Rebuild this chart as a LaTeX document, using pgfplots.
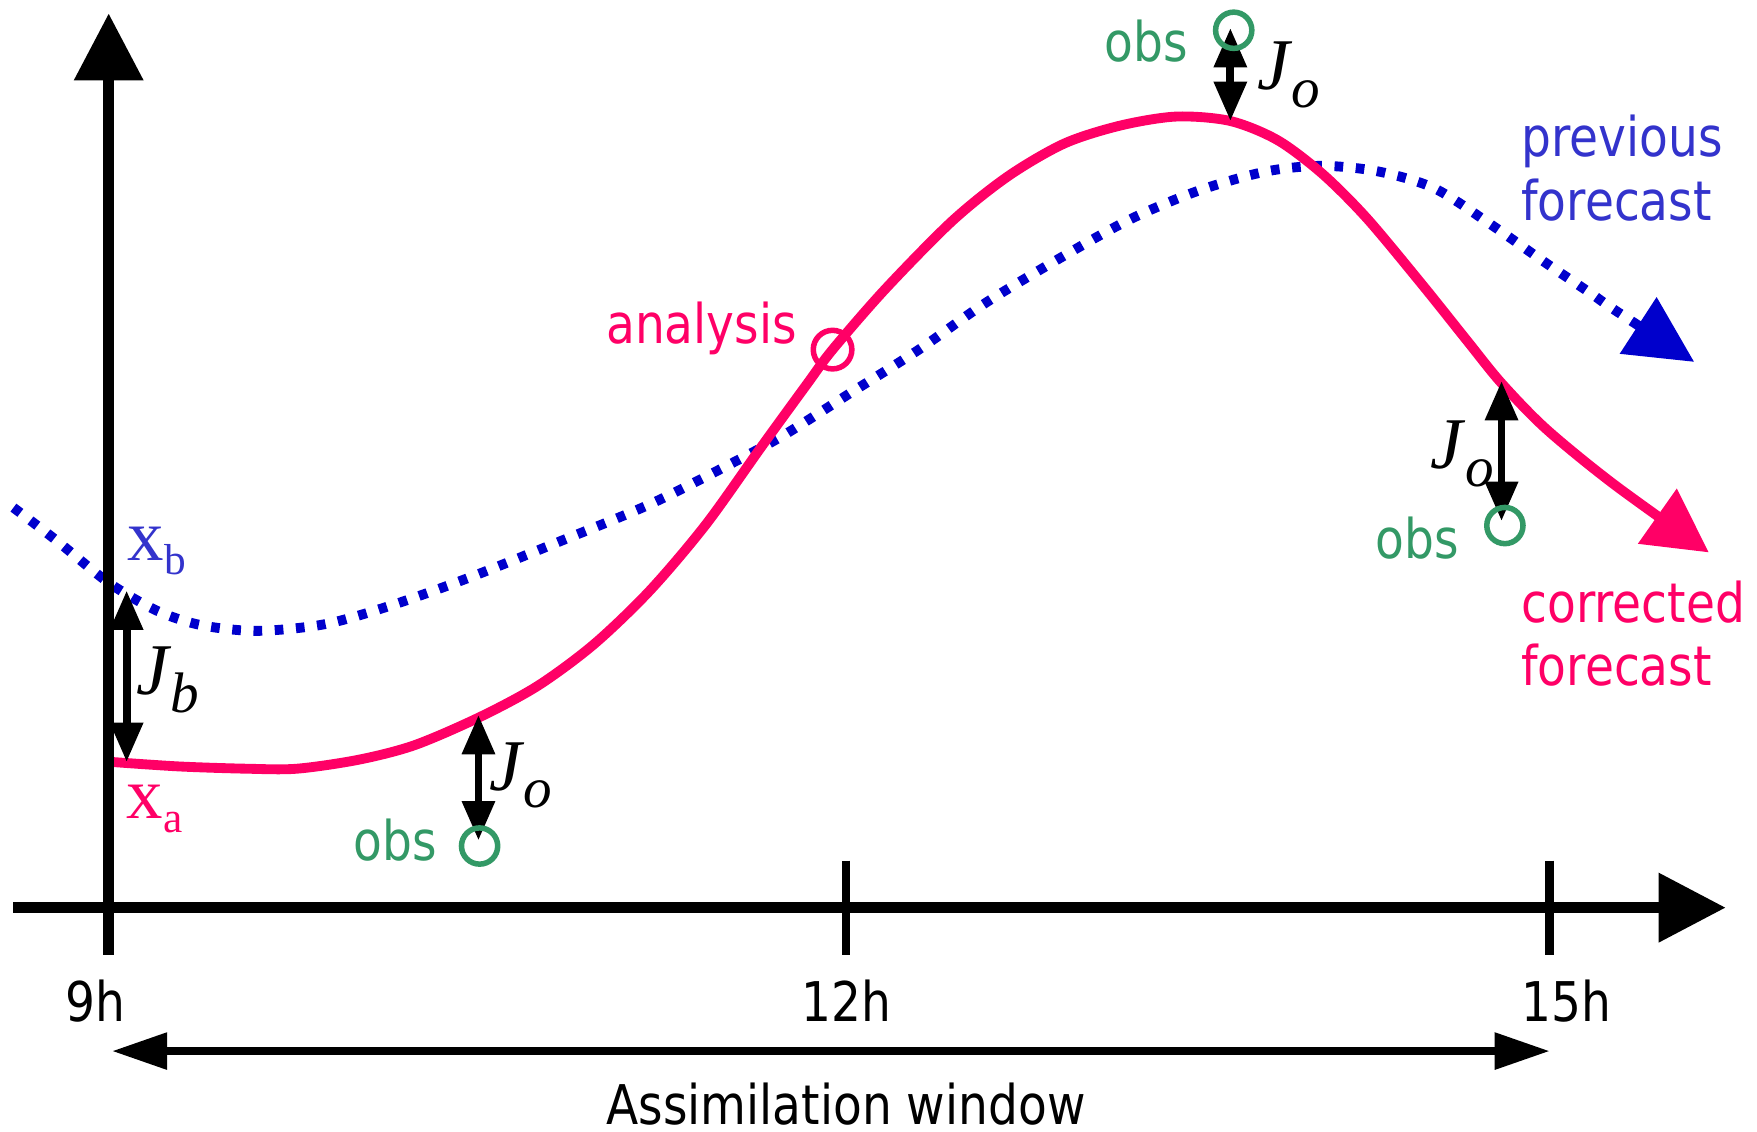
\documentclass[border=0pt]{standalone}
\usepackage{pgfplots}
\pgfplotsset{compat=1.18}
\usepackage{fontspec}
\setmainfont{DejaVu Sans}[FakeStretch=0.86]
\newfontfamily\serif{Liberation Serif}
\usetikzlibrary{arrows.meta}
\definecolor{cpink}{RGB}{255,0,102}
\definecolor{cblue}{RGB}{0,0,204}
\definecolor{tblue}{RGB}{51,51,204}
\definecolor{cgreen}{RGB}{51,153,102}
\newcommand{\sz}{\fontsize{13.9}{16}\selectfont}
\newcommand{\Jsub}[1]{{\serif\itshape\fontsize{18.5}{20}\selectfont J\kern0.5pt\raisebox{-4.5pt}{\fontsize{14.5}{16}\selectfont #1}}}
\newcommand{\xsub}[1]{{\serif\fontsize{18.5}{20}\selectfont x\raisebox{-3.5pt}{\fontsize{11}{12}\selectfont #1}}}
\begin{document}
\begin{tikzpicture}[every node/.style={inner sep=0pt}]
\begin{axis}[scale only axis, width=15.68cm, height=10.10cm,
  xmin=0, xmax=1568, ymin=0, ymax=1010, y dir=reverse,
  hide axis, clip=false]
% previous forecast (dotted)
\addplot[cblue, line width=2.5pt, dash pattern=on 2.2pt off 3.2pt, smooth,
  -{Triangle[length=17pt,width=16.5pt]}] coordinates {
  (12,453) (50,482) (97,520) (140,545) (180,558) (230,563) (290,557) (350,540)
  (420,515) (500,483) (580,450) (650,415) (700,388) (760,350) (820,312) (880,270)
  (950,228) (1010,195) (1070,170) (1130,153) (1180,148) (1230,153) (1280,168)
  (1330,200) (1380,235) (1420,262) (1440,276) (1512,323)};
% corrected forecast
\addplot[cpink, line width=2.5pt, smooth,
  -{Triangle[length=16pt,width=16.5pt]}] coordinates {
  (100,680) (160,684) (220,686) (265,686) (320,678) (370,665) (428,640) (480,612)
  (530,575) (580,527) (630,468) (680,398) (720,343) (743,312) (790,258) (850,197)
  (900,157) (950,128) (1000,112) (1050,104) (1098,108) (1140,125) (1180,155)
  (1220,195) (1270,255) (1310,305) (1340,342) (1380,383) (1440,432) (1525,493)};
% observations
\addplot[only marks, mark=o, mark size=4.6pt, cgreen, line width=1.4pt,
  mark options={solid}] coordinates {(428,755) (1101,27) (1343,469)};
% analysis
\addplot[only marks, mark=o, mark size=4.9pt, cpink, line width=1.4pt] coordinates {(743,312)};
% axes
\draw[line width=2.7pt, -{Triangle[length=17pt,width=17pt]}] (axis cs:97,852) -- (axis cs:97,12);
\draw[line width=2.7pt, -{Triangle[length=17pt,width=17pt]}] (axis cs:12,810) -- (axis cs:1540,810);
\draw[line width=2.2pt] (axis cs:755,768) -- (axis cs:755,852);
\draw[line width=2.2pt] (axis cs:1383,768) -- (axis cs:1383,852);
\draw[line width=2pt, {Triangle[length=14pt,width=9pt]}-{Triangle[length=14pt,width=9pt]}] (axis cs:100,938) -- (axis cs:1383,938);
% J arrows
\draw[line width=2pt, {Triangle[length=10pt,width=8pt]}-{Triangle[length=10pt,width=8pt]}] (axis cs:113,527) -- (axis cs:113,680);
\draw[line width=2pt, {Triangle[length=10pt,width=8pt]}-{Triangle[length=10pt,width=8pt]}] (axis cs:427,638) -- (axis cs:427,750);
\draw[line width=2pt, {Triangle[length=10pt,width=8pt]}-{Triangle[length=10pt,width=8pt]}] (axis cs:1098,25) -- (axis cs:1098,108);
\draw[line width=2pt, {Triangle[length=10pt,width=8pt]}-{Triangle[length=10pt,width=8pt]}] (axis cs:1340,340) -- (axis cs:1340,465);
% texts
\node at (axis cs:85,893) {\sz 9h};
\node at (axis cs:755,893) {\sz 12h};
\node at (axis cs:1398,893) {\sz 15h};
\node at (axis cs:755,985) {\sz Assimilation window};
\node[text=cgreen] at (axis cs:353,750) {\sz obs};
\node[text=cgreen] at (axis cs:1023,37) {\sz obs};
\node[text=cgreen] at (axis cs:1265,480) {\sz obs};
\node[text=cpink] at (axis cs:626,293) {\sz analysis};
\node[text=tblue, anchor=west, align=left, font=\sz] at (axis cs:1357,150) {previous\\forecast};
\node[text=cpink, anchor=west, align=left, font=\sz] at (axis cs:1357,565) {corrected\\forecast};
\node[text=tblue] at (axis cs:140,492) {\xsub{b}};
\node[text=cpink] at (axis cs:138,722) {\xsub{a}};
\node at (axis cs:150,607) {\Jsub{b}};
\node at (axis cs:465,692) {\Jsub{o}};
\node at (axis cs:1150,67) {\Jsub{o}};
\node at (axis cs:1305,405) {\Jsub{o}};
\path (axis cs:0,0) rectangle (axis cs:1568,1010);
\end{axis}
\end{tikzpicture}
\end{document}
